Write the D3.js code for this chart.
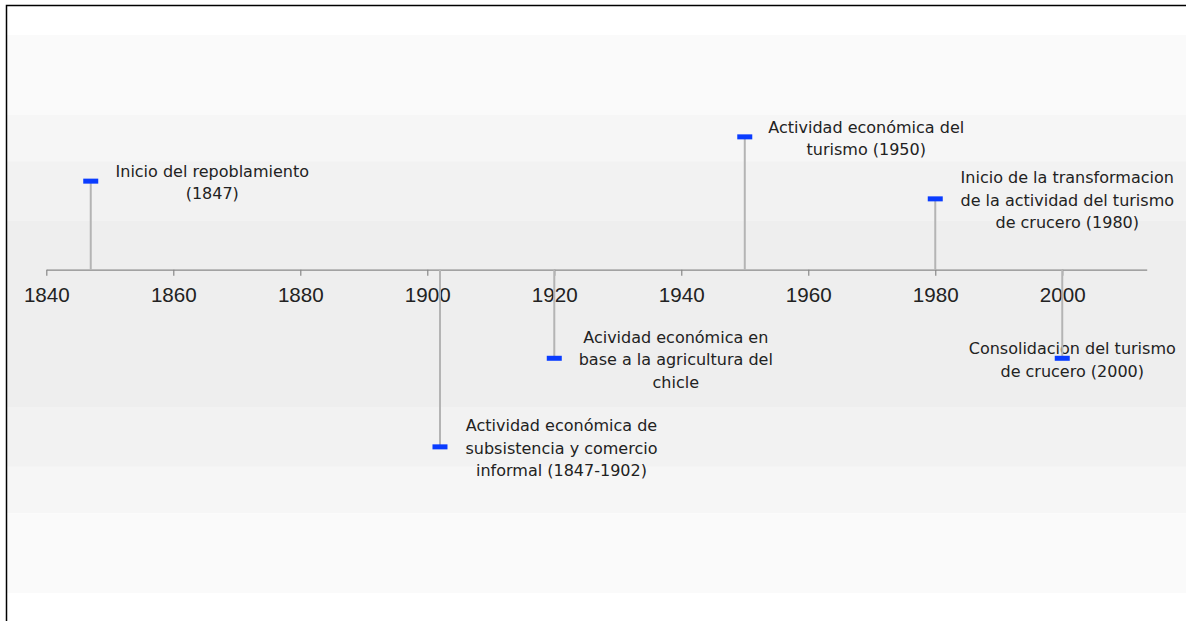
<!DOCTYPE html>
<html>
<head>
<meta charset="utf-8">
<script src="https://cdn.jsdelivr.net/npm/d3@7"></script>
<style>
  html, body { margin: 0; padding: 0; background: #ffffff; }
  svg { display: block; }
</style>
</head>
<body>
<svg id="chart" width="1186" height="621"></svg>
<script>
// ---- data ----
const years  = [1847, 1902, 1920, 1950, 1980, 2000];
const levels = [2, -4, -2, 3, 1.6, -2];
const labels = [
  ["Inicio del repoblamiento", "(1847)"],
  ["Actividad económica de", "subsistencia y comercio", "informal (1847-1902)"],
  ["Acividad económica en", "base a la agricultura del", "chicle"],
  ["Actividad económica del", "turismo (1950)"],
  ["Inicio de la transformacion", "de la actividad del turismo", "de crucero (1980)"],
  ["Consolidacion del turismo", "de crucero (2000)"]
];
const tickYears = [1840, 1860, 1880, 1900, 1920, 1940, 1960, 1980, 2000];
const bandStops = [5.3, 3.5, 2.45, 1.1, -3.1, -4.45, -5.5, -7.3];

// ---- layout / style (kept apart from the data) ----
const bandFills = ["#fafafa", "#f6f6f6", "#f2f2f2", "#eeeeee", "#f2f2f2", "#f6f6f6", "#fafafa"];
const labelDx = [121.5, 121.5, 121.5, 121.5, 132, 10];
const lineH = 22.5;

const svg = d3.select("#chart");
const x = d3.scaleLinear().domain([1840, 2013.3]).range([46.3, 1146.7]);
const y = d3.scaleLinear().domain([-7.3, 5.3]).range([593, 35]);

// background bands
const bands = d3.range(bandStops.length - 1).map(i => ({top: bandStops[i], bottom: bandStops[i + 1], fill: bandFills[i]}));
svg.append("g").selectAll("rect").data(bands).join("rect")
  .attr("x", 7).attr("width", 1186)
  .attr("y", d => y(d.top))
  .attr("height", d => y(d.bottom) - y(d.top))
  .attr("fill", d => d.fill);

// border (top + left visible)
svg.append("path")
  .attr("d", "M6.5,700 V5.5 H1200")
  .attr("fill", "none").attr("stroke", "#000").attr("stroke-width", 1.5);

// axis
const axis = d3.axisBottom(x).tickValues(tickYears).tickFormat(d3.format("d")).tickSize(6).tickSizeOuter(0).tickPadding(12);
const ax = svg.append("g").attr("transform", `translate(0,${y(0)})`).call(axis);
ax.select(".domain").attr("stroke", "#888").attr("stroke-width", 1.2);
ax.selectAll(".tick line").attr("stroke", "#888").attr("stroke-width", 1.2);
ax.selectAll(".tick text")
  .attr("fill", "#222")
  .style("font-family", "'Liberation Sans', Arial, sans-serif")
  .style("font-size", "20.6px");

const events = years.map((yr, i) => ({year: yr, level: levels[i], lines: labels[i], dx: labelDx[i]}));

// labels
const lg = svg.append("g")
  .style("font-family", "'DejaVu Sans', Verdana, sans-serif")
  .style("font-size", "16px")
  .attr("fill", "#222");
events.forEach(e => {
  const cx = x(e.year) + e.dx;
  const midBase = y(e.level) + 7;
  const n = e.lines.length;
  const t = lg.append("text").attr("text-anchor", "middle");
  e.lines.forEach((ln, j) => {
    t.append("tspan").attr("x", cx).attr("y", midBase + (j - (n - 1) / 2) * lineH).text(ln);
  });
});

// stems
svg.append("g").selectAll("line").data(events).join("line")
  .attr("x1", d => x(d.year)).attr("x2", d => x(d.year))
  .attr("y1", y(0)).attr("y2", d => y(d.level))
  .attr("stroke", "#b4b4b4").attr("stroke-width", 2);

// markers
svg.append("g").selectAll("rect").data(events).join("rect")
  .attr("x", d => x(d.year) - 7.5).attr("width", 15)
  .attr("y", d => y(d.level) - 2.5).attr("height", 5)
  .attr("fill", "#0a3cff");
</script>
</body>
</html>
